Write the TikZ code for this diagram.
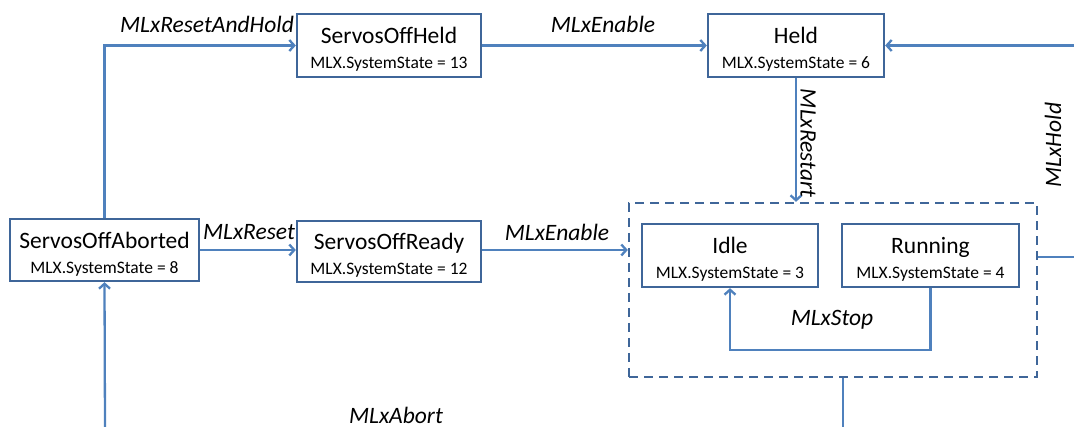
\documentclass[tikz,border=0pt]{standalone}
\usepackage{fontspec}
\setmainfont{Carlito}
\usetikzlibrary{arrows.meta,calc}
\definecolor{boxc}{HTML}{3F6699}
\definecolor{linec}{HTML}{4F81BD}
\begin{document}
\begin{tikzpicture}[x=1pt,y=-1pt,
  state/.style={draw=boxc, line width=2.3pt, fill=white, inner sep=0pt, align=center, font=\fontsize{17.5}{25}\selectfont},
  grpbox/.style={draw=boxc, line width=2.3pt, dash pattern=on 9pt off 6pt, inner sep=0pt, minimum width=408pt, minimum height=174pt},
  conn/.style={draw=linec, line width=2.3pt},
  arr/.style={conn, -{Straight Barb[length=5pt,width=11pt,line width=2.3pt]}},
  lbl/.style={font=\fontsize{23.5}{26}\selectfont\itshape, inner sep=0pt}]
\useasboundingbox (0,0) rectangle (1074,427);
\newcommand{\st}[2]{\rule{0pt}{24pt}{\fontsize{23.5}{25}\selectfont #1}\\#2}
\node[grpbox] (grp) at (833,290) {};
\node[state, minimum width=184pt, minimum height=63pt] (SOH) at (389,45.5) {\st{ServosOffHeld}{MLX.SystemState = 13}};
\node[state, minimum width=176pt, minimum height=63pt] (Held) at (796,45.5) {\st{Held}{MLX.SystemState = 6}};
\node[state, minimum width=189pt, minimum height=62pt] (SOA) at (104.5,250) {\st{ServosOffAborted}{MLX.SystemState = 8}};
\node[state, minimum width=184pt, minimum height=61pt] (SOR) at (389,251.5) {\st{ServosOffReady}{MLX.SystemState = 12}};
\node[state, minimum width=176pt, minimum height=63pt] (Idle) at (730,255.5) {\st{Idle}{MLX.SystemState = 3}};
\node[state, minimum width=177pt, minimum height=63pt] (Run) at (930.5,255.5) {\st{Running}{MLX.SystemState = 4}};
\coordinate (heldin) at (1074,45.5);
\coordinate (grpout) at (1074,257);
\coordinate (down) at (843,427);
\coordinate (abortin) at (105,427);
% connectors
\draw[arr] (SOH.east) -- (Held.west);
\draw[arr] (SOA.north) |- (SOH.west);
\draw[arr] (SOA.east) -- (SOA.east -| SOR.west);
\draw[arr] (SOR.east |- 0,250) -- (grp.west |- 0,250);
\draw[arr] (Held.south) -- (Held.south |- grp.north);
\draw[arr] (Run.south) -- ++(0,62) -| (Idle.south);
\draw[conn] (down |- grp.south) -- (down);
\draw[conn] (grp.east |- grpout) -- (grpout);
\draw[arr] (heldin) -- (Held.east);
\draw[arr] (abortin) -- (SOA.south);
% labels
\node[lbl] (lRAH) at (207,24) {MLxResetAndHold};
\node[lbl] (lEn1) at (603,24) {MLxEnable};
\node[lbl, rotate=-90] (lRes) at (808,143) {MLxRestart};
\node[lbl, rotate=90] (lHold) at (1053,145) {MLxHold};
\node[lbl] (lReset) at (249,232) {MLxReset};
\node[lbl] (lEn2) at (557,232) {MLxEnable};
\node[lbl] (lStop) at (832,320) {MLxStop};
\node[lbl] (lAbort) at (396,415) {MLxAbort};
\end{tikzpicture}
\end{document}
